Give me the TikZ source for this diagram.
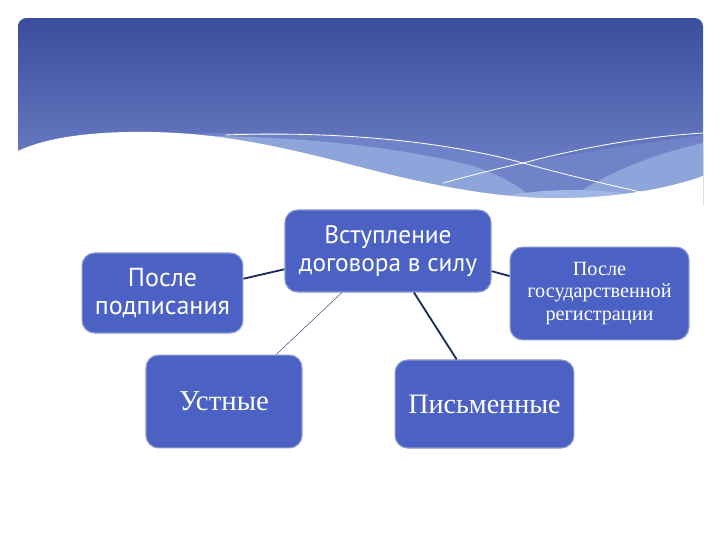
\documentclass[tikz,border=0pt]{standalone}
\usepackage{fontspec}
\setmainfont{Liberation Serif}
\newfontfamily\humfont{PT Sans}
\usetikzlibrary{arrows.meta}

\definecolor{boxblue}{HTML}{4B62C4}
\definecolor{boxedge}{HTML}{8E9AD2}
\definecolor{linkblue}{HTML}{1E2A5C}
\definecolor{headtop}{HTML}{3A4E9E}
\definecolor{headbot}{HTML}{7688CC}
\definecolor{bandmid}{HTML}{7083C8}
\definecolor{bandlight}{HTML}{8DA5DB}
\definecolor{bandpale}{HTML}{A2B7E6}

\begin{document}
\begin{tikzpicture}[x=0.025cm,y=-0.025cm,
    blockbox/.style={draw=boxedge,line width=0.8pt,fill=boxblue,text=white,
      rounded corners=9pt,align=center,inner sep=0pt},
    thicklink/.style={linkblue,line width=1.3pt},
    thinlink/.style={linkblue!80,line width=0.4pt}]

    \useasboundingbox (0,0) rectangle (720,540);

    % header with waves
    \begin{scope}
      \clip[rounded corners=6pt] (18,18) rectangle (703,260);
      \shade[top color=headtop,bottom color=headbot] (18,18) rectangle (703,205);
      \fill[bandmid] (160,135) .. controls (300,128) and (440,140) .. (523,163)
        .. controls (600,150) and (660,140) .. (703,135) -- (703,205) -- (160,205) -- cycle;
      \fill[bandlight] (160,136) .. controls (300,134) and (400,148) .. (470,165)
        .. controls (500,175) and (520,185) .. (540,205) -- (160,205) -- cycle;
      \fill[bandlight] (703,143) .. controls (650,155) and (600,175) .. (560,205)
        -- (703,205) -- cycle;
      \fill[bandpale] (470,205) .. controls (530,186) and (600,184) .. (690,205) -- cycle;
      \draw[white,line width=0.6pt] (225,135) .. controls (330,131) and (440,140) .. (523,163)
        .. controls (570,176) and (610,185) .. (645,193);
      \draw[white,line width=0.6pt] (443,183) .. controls (480,173) and (500,168) .. (523,163)
        .. controls (580,148) and (640,137) .. (703,133);
      \fill[white] (0,151) -- (18,151) .. controls (45,138) and (90,131) .. (150,132)
        .. controls (220,133) and (280,146) .. (360,167)
        .. controls (440,188) and (510,200) .. (570,198)
        .. controls (620,197) and (670,188) .. (703,176) -- (720,176) -- (720,260) -- (0,260) -- cycle;
    \end{scope}

    % draw boxes
    \node[blockbox,minimum width=5.15cm,minimum height=2.05cm,
      font=\humfont\fontsize{18}{20}\selectfont] (entry) at (388,251)
      {Вступление\\договора в силу};
    \node[blockbox,minimum width=4.02cm,minimum height=2cm,
      font=\humfont\fontsize{18.5}{20}\selectfont] (signing) at (162.5,293)
      {После\\подписания};
    \node[blockbox,minimum width=4.47cm,minimum height=2.32cm,
      font=\fontsize{14.4}{16}\selectfont] (registry) at (599.5,293.5)
      {После\\государственной\\регистрации};
    \node[blockbox,minimum width=3.9cm,minimum height=2.32cm,
      font=\fontsize{20.5}{22}\selectfont] (oral) at (224,401.5) {Устные};
    \node[blockbox,minimum width=4.47cm,minimum height=2.2cm,
      font=\fontsize{20}{22}\selectfont] (written) at (484.5,404) {Письменные};

    % draw links
    \draw[thicklink] (signing.10) -- (entry.190);
    \draw[thicklink] (entry.349) -- (registry.169);
    \draw[thinlink] (entry.222) -- (oral.42);
    \draw[thicklink] (entry.302) -- (written.122);
\end{tikzpicture}
\end{document}
